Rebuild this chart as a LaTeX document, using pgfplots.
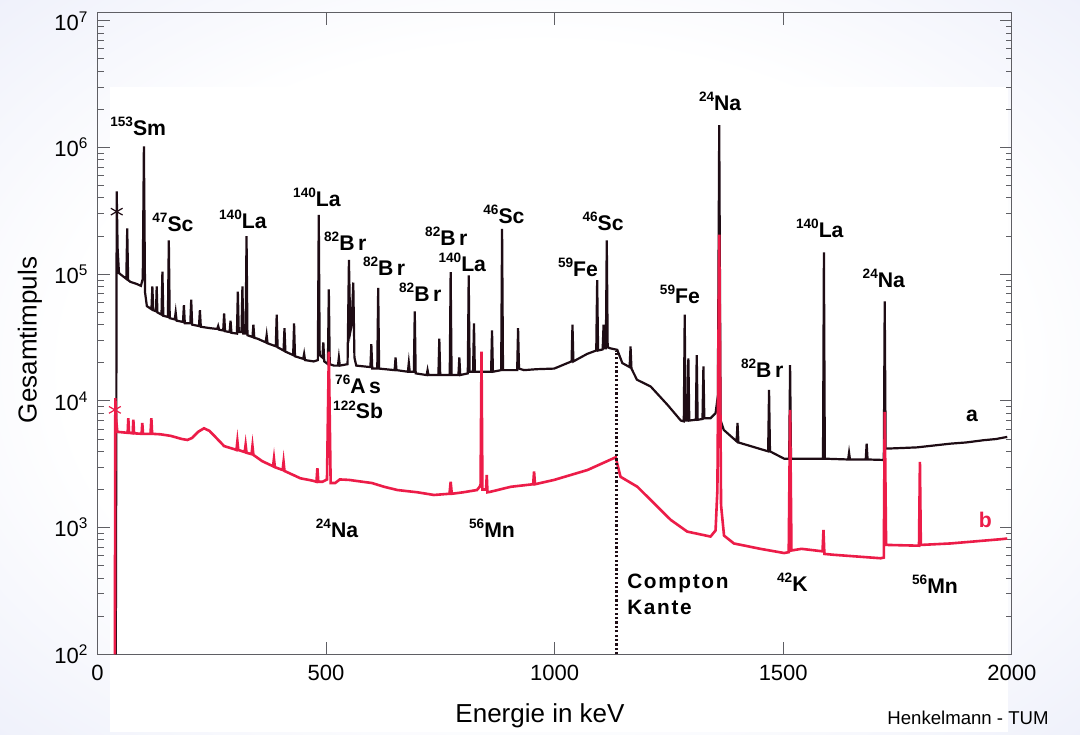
\documentclass[border=0pt]{standalone}
\usepackage{fontspec}
\setmainfont{Liberation Sans}
\usepackage{pgfplots}
\pgfplotsset{compat=1.18}

\definecolor{bgblue}{RGB}{222,226,246}
\definecolor{specred}{RGB}{236,28,72}
\definecolor{specblack}{RGB}{30,12,20}
\definecolor{axgray}{RGB}{95,95,100}

\pgfdeclareradialshading{bgshade}{\pgfpoint{0bp}{0bp}}{color(0bp)=(white); color(22bp)=(white); color(50bp)=(bgblue)}

% isotope label: small mass number, then symbol
\newcommand{\iso}[2]{\raisebox{0.8ex}{\fontsize{6.8}{7}\selectfont #1}#2}
\tikzset{lab/.style={font=\fontsize{10.6}{12}\selectfont\bfseries, inner sep=0pt}}

\begin{document}
\begin{tikzpicture}
\shade[shading=bgshade] (0,0) rectangle (540pt,367pt);
\useasboundingbox (0,0) rectangle (540pt,367pt);
% white area of the scanned plot
\fill[white] (55pt,1pt) rectangle (504pt,323.5pt);

\begin{axis}[
  at={(48.75pt,39.85pt)}, anchor=south west,
  scale only axis, width=457.15pt, height=320.8pt,
  xmin=0, xmax=2000,
  ymode=log, ymin=100, ymax=1.16e7,
  axis line style={axgray, line width=0.6pt},
  tick style={axgray, line width=0.5pt},
  major tick length=6pt, minor tick length=3pt,
  tick align=inside,
  xtick pos=both, ytick pos=both,
  xticklabel pos=lower, yticklabel pos=left,
  xtick={0,500,1000,1500,2000},
  xticklabels={0,500,1000,1500,2000},
  ytick={1e2,1e3,1e4,1e5,1e6,1e7},
  yticklabels={10\textsuperscript{2},10\textsuperscript{3},10\textsuperscript{4},10\textsuperscript{5},10\textsuperscript{6},10\textsuperscript{7}},
  tick label style={font=\fontsize{11}{13}\selectfont},
  xticklabel style={yshift=-2pt},
  yticklabel style={xshift=-1pt},
  clip=false,
]
% spectrum a
\addplot[specblack, line width=1.1pt] coordinates {
(40,100)(41,3e3)(42,4.5e5)(44,1.6e5)(47,1.02e5)(58,9.5e4)(63,9.2e4)(65,2.3e5)(67,9.0e4)
(72,8.7e4)(85,8.4e4)(95,8.1e4)(99,9.2e4)(101.5,1.02e6)(104,7.2e4)(108,5.6e4)(118,5.3e4)
(120,8.0e4)(122,5.2e4)(128,5.1e4)(129.5,8.0e4)(131,5.0e4)(140,4.8e4)(142,1.05e5)(144,4.7e4)
(154,4.6e4)(156,1.85e5)(158,4.5e4)(169,4.4e4)(171,5.0e4)(173,4.3e4)(187,4.2e4)(189,5.7e4)
(191,4.1e4)(203,4.1e4)(205,6.3e4)(207,4.0e4)(222,3.9e4)(224,5.2e4)(226,3.85e4)(247,3.75e4)
(262,3.7e4)(264,3.9e4)(266,3.65e4)
(275,3.6e4)(277,4.9e4)(279,3.55e4)(289,3.5e4)(291,4.3e4)(293,3.45e4)(305,3.4e4)(307,7.3e4)
(309,3.5e4)(315,3.5e4)(317,8.0e4)(319,3.4e4)(324,3.4e4)(326,2.0e5)(328,3.3e4)(339,3.2e4)
(341,4.0e4)(343,3.15e4)(350,3.1e4)(368,2.9e4)(370,3.3e4)(372,2.85e4)(390,2.7e4)(392,4.8e4)
(394,2.65e4)(407,2.5e4)(409,3.75e4)(411,2.45e4)(428,2.3e4)(430,4.1e4)(432,2.25e4)(450,2.15e4)
(452,2.35e4)(454,2.1e4)(473,2.05e4)
(482,2.1e4)(484,2.94e5)(486,2.3e4)(492,2.2e4)(494,2.9e4)(496,2.05e4)(504,1.95e4)(506,7.6e4)
(508,1.95e4)(517,1.9e4)(526,1.9e4)(528,2.2e4)(530,1.9e4)(547,1.95e4)(550,1.3e5)(553,3.5e4)
(556,4.0e4)(559.5,8.6e4)(562,2.2e4)(566,1.9e4)(597,1.85e4)(599,2.8e4)(601,1.8e4)(612,1.8e4)
(614,7.8e4)(616,1.8e4)(650,1.75e4)(652,2.2e4)(654,1.75e4)(679,1.7e4)(681,2.0e4)(683,1.7e4)
(692,1.7e4)(694,5.1e4)(696,1.65e4)(720,1.6e4)(722,1.75e4)(724,1.6e4)(745.7,1.6e4)(747.7,3.1e4)
(749.7,1.6e4)(770.5,1.6e4)(772.5,1.04e5)(774.5,1.6e4)(789.5,1.6e4)(791.5,2.2e4)(793.5,1.6e4)
(810,1.65e4)(812,9.8e4)(814,1.7e4)(821.5,1.7e4)(823.5,4.1e4)(825.5,1.7e4)(861,1.7e4)(863,3.6e4)
(865,1.7e4)(883,1.75e4)(885,2.28e5)(887,1.75e4)(918,1.75e4)(920,3.75e4)(922,1.8e4)(933,1.75e4)
(960,1.78e4)(999,1.8e4)(1028,1.99e4)(1037,2.05e4)(1039,4.0e4)(1041,2.05e4)(1071,2.35e4)
(1091,2.5e4)(1093,9.0e4)(1095,2.5e4)(1105,2.55e4)(1107,4.0e4)(1109,2.6e4)(1112,2.6e4)
(1114,1.85e5)(1116,2.65e4)(1122,2.6e4)(1137,2.53e4)(1148,1.99e4)(1164,1.85e4)(1166,2.69e4)
(1168,1.8e4)(1180,1.47e4)(1210,1.3e4)(1247,9.3e3)(1276,7.0e3)(1282.5,6.9e3)(1284.5,4.8e4)
(1286.5,7.0e3)(1290.5,7.0e3)(1292.5,2.17e4)(1294.5,7.0e3)(1308.8,7.1e3)(1310.8,2.3e4)
(1312.8,7.1e3)(1323.4,7.2e3)(1325.4,1.87e4)(1327.4,7.3e3)(1341,7.3e3)(1352,8.0e3)(1357,1.1e4)
(1360,1.5e6)(1363,7.0e3)(1370,5.9e3)(1398,4.8e3)(1400,6.7e3)(1402,4.7e3)(1467,4.0e3)
(1469,1.22e4)(1471,4.0e3)(1502,3.5e3)(1513,3.5e3)(1515,1.92e4)(1517,3.5e3)(1545,3.5e3)
(1587,3.5e3)(1589,1.49e5)(1591,3.5e3)(1642,3.45e3)(1644,3.9e3)(1646,3.45e3)(1680.5,3.45e3)
(1682.5,4.6e3)(1684.5,3.45e3)(1720,3.42e3)(1722,6.1e4)(1724,4.2e3)(1760,4.25e3)(1793,4.3e3)
(1830,4.45e3)(1866,4.6e3)(1900,4.7e3)(1939,4.9e3)(1965,5.0e3)(1990,5.2e3)
};
% spectrum b
\addplot[specred, line width=1.3pt] coordinates {
(38,100)(39,1.05e4)(41,7.0e3)(43.4,5.7e3)(55,5.65e3)(66,5.6e3)(67.4,7.3e3)(69,5.6e3)(77,5.55e3)
(78.4,7.1e3)(80,5.55e3)(96.5,5.5e3)(98,6.7e3)(99.5,5.5e3)(116,5.5e3)(117.8,7.3e3)(119.5,5.5e3)
(138,5.45e3)(160,5.3e3)(185,5.0e3)(196.5,4.92e3)(207,5.1e3)(220,5.7e3)(233,6.08e3)(245,5.8e3)
(260,5.1e3)(277,4.4e3)(300,4.15e3)(304,4.1e3)(306,4.8e3)(308,4.1e3)(322,3.95e3)(324,4.5e3)
(326,3.9e3)(337,3.8e3)(339,4.4e3)(341,3.75e3)(360,3.35e3)(384,3.05e3)(386,3.5e3)(388,3.0e3)
(405,2.85e3)(407,3.3e3)(409,2.8e3)(444,2.45e3)(470,2.35e3)(479,2.3e3)(481,2.95e3)(483,2.3e3)
(492,2.3e3)(502,2.4e3)(504.5,1.0e4)(506,2.45e4)(507.5,1.0e4)(510,2.25e3)(520,2.25e3)(530,2.4e3)
(550,2.38e3)(580,2.3e3)(600,2.25e3)(627,2.1e3)(656,1.98e3)(700,1.9e3)(736,1.81e3)(770,1.85e3)
(772.5,2.3e3)(775,1.85e3)(800,1.9e3)(830,1.98e3)(836,2.1e3)(838,2.2e3)(840,2.45e4)(842,2.0e3)
(850,2.0e3)(851.5,2.6e3)(853,1.9e3)(860,1.92e3)(904,2.1e3)(953,2.2e3)(955,2.77e3)(957,2.2e3)
(999,2.38e3)(1072,2.85e3)(1133.5,3.59e3)(1144,2.52e3)(1181,2.1e3)(1217,1.56e3)(1254,1.15e3)
(1290,9.3e2)(1341,8.5e2)(1352,9.5e2)(1356,2.0e3)(1360,2.05e5)(1364,1.5e3)(1370.5,8.65e2)
(1392,7.5e2)(1450,6.8e2)(1502,6.3e2)(1512,6.4e2)(1515,8.5e3)(1518,6.6e2)(1540,6.8e2)
(1586,6.5e2)(1588,9.6e2)(1590,6.2e2)(1611,6.1e2)(1713,5.73e2)(1720,5.8e2)(1722,8.2e3)
(1725,7.3e2)(1728,7.3e2)(1797,7.2e2)(1799,3.3e3)(1801,7.3e2)(1866,7.5e2)(1976,8.1e2)(1990,8.2e2)
};
% markers at the start of each spectrum
\addplot[specblack, only marks, mark=asterisk, mark size=3.4pt, mark options={line width=0.6pt}]
  coordinates {(42,3.12e5)};
\addplot[specred, only marks, mark=asterisk, mark size=3.4pt, mark options={line width=0.6pt}]
  coordinates {(38,8.5e3)};
% Compton edge
\addplot[specblack, line width=1.4pt, dash pattern=on 1.1pt off 1.1pt] coordinates {(1135,100)(1135,2.5e4)};

% peak labels
\node[lab] at (axis cs:89,1.46e6) {\iso{153}{Sm}};
\node[lab] at (axis cs:165,2.58e5) {\iso{47}{Sc}};
\node[lab] at (axis cs:318,2.73e5) {\iso{140}{La}};
\node[lab] at (axis cs:480,4.07e5) {\iso{140}{La}};
\node[lab] at (axis cs:542,1.82e5) {\iso{82}{B\,r}};
\node[lab] at (axis cs:627,1.16e5) {\iso{82}{B\,r}};
\node[lab] at (axis cs:706,7.2e4) {\iso{82}{B\,r}};
\node[lab] at (axis cs:763,2.0e5) {\iso{82}{B\,r}};
\node[lab] at (axis cs:798,1.25e5) {\iso{140}{La}};
\node[lab] at (axis cs:889,2.99e5) {\iso{46}{Sc}};
\node[lab] at (axis cs:1051,1.13e5) {\iso{59}{Fe}};
\node[lab] at (axis cs:1106,2.6e5) {\iso{46}{Sc}};
\node[lab] at (axis cs:1362,2.3e6) {\iso{24}{Na}};
\node[lab] at (axis cs:1274,6.9e4) {\iso{59}{Fe}};
\node[lab] at (axis cs:1580,2.32e5) {\iso{140}{La}};
\node[lab] at (axis cs:1720,9.2e4) {\iso{24}{Na}};
\node[lab] at (axis cs:1454,1.82e4) {\iso{82}{B\,r}};
\node[lab] at (axis cs:570,1.34e4) {\iso{76}{A\,s}};
\node[lab] at (axis cs:570,8.5e3) {\iso{122}{Sb}};
\node[lab] at (axis cs:524,995) {\iso{24}{Na}};
\node[lab] at (axis cs:863,995) {\iso{56}{Mn}};
\node[lab] at (axis cs:1520,372) {\iso{42}{K}};
\node[lab] at (axis cs:1832,359) {\iso{56}{Mn}};
\node[lab, anchor=west, align=left, font=\fontsize{10.4}{12}\selectfont\bfseries\addfontfeature{LetterSpace=8}]
  at (axis cs:1158,300) {Compton\\[1pt]Kante};
\node[lab] at (axis cs:1913,7.6e3) {a};
\node[lab, text=specred] at (axis cs:1942,1.15e3) {b};
\end{axis}

\node[font=\fontsize{13}{15}\selectfont] at (270pt,9pt) {Energie in keV};
\node[font=\fontsize{13}{15}\selectfont, rotate=90] at (15pt,197pt) {Gesamtimpuls};
\node[font=\fontsize{9.3}{11}\selectfont] at (484pt,8pt) {Henkelmann - TUM};
\end{tikzpicture}
\end{document}
